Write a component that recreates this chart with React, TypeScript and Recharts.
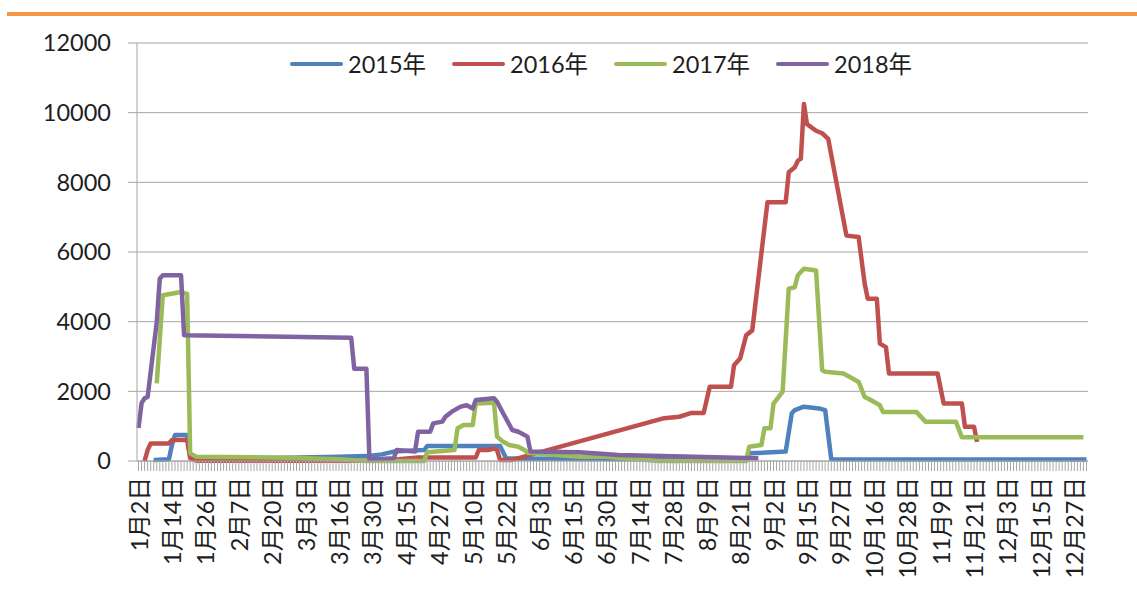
import { LineChart, Line, XAxis, YAxis, CartesianGrid } from 'recharts'

// category axis: one slot per day in the table, a label every 11 slots
const CATEGORY_COUNT = 313
const LABEL_STEP = 11
const DAY_LABELS = [
  '1月2日', '1月14日', '1月26日', '2月7日', '2月20日', '3月3日', '3月16日', '3月30日',
  '4月15日', '4月27日', '5月10日', '5月22日', '6月3日', '6月15日', '6月30日', '7月14日',
  '7月28日', '8月9日', '8月21日', '9月2日', '9月15日', '9月27日', '10月16日', '10月28日',
  '11月9日', '11月21日', '12月3日', '12月15日', '12月27日',
]
const Y_TICKS = [0, 2000, 4000, 6000, 8000, 10000, 12000]

// [category index, value] break points
const S2015 = [
  [5, 30], [10, 50], [11, 460], [12, 745], [16, 745], [17, 170], [19, 40], [40, 80],
  [66, 125], [75, 140], [80, 190], [84, 270], [94, 315], [95, 430], [119, 430], [121, 70],
  [160, 60], [200, 60], [201, 220], [213, 270], [215, 1370], [216, 1460], [219, 1560],
  [224, 1510], [226, 1460], [228, 50], [312, 40],
]
const S2016 = [
  [2, 0], [3, 315], [4, 500], [10, 500], [11, 600], [16, 600], [17, 80], [19, 10], [80, 10],
  [92, 100], [111, 100], [112, 315], [115, 315], [117, 360], [118, 315], [119, 30], [123, 30],
  [173, 1230], [178, 1270], [182, 1380], [186, 1380], [188, 2130], [195, 2130], [196, 2750],
  [198, 2940], [200, 3610], [202, 3750], [207, 7430], [213, 7430], [214, 8290], [216, 8430],
  [217, 8620], [218, 8680], [219, 10250], [220, 9670], [223, 9480], [225, 9410], [227, 9250],
  [233, 6470], [237, 6430], [239, 5090], [240, 4660], [243, 4660], [244, 3370], [246, 3270],
  [247, 2510], [263, 2510], [264, 2080], [265, 1650], [271, 1650], [272, 980], [275, 980],
  [276, 550],
]
const S2017 = [
  [6, 2230], [8, 4760], [14, 4850], [16, 4800], [17, 220], [19, 120], [50, 95], [66, 50],
  [75, 0], [94, 0], [95, 250], [104, 315], [105, 940], [107, 1030], [110, 1030], [111, 1650],
  [117, 1670], [118, 700], [120, 550], [122, 460], [125, 410], [127, 315], [128, 240],
  [145, 125], [154, 120], [171, 0], [200, 0], [201, 410], [205, 460], [206, 940], [208, 940],
  [209, 1650], [212, 1990], [214, 4950], [216, 4990], [217, 5330], [219, 5520], [223, 5470],
  [225, 2610], [226, 2560], [232, 2510], [235, 2370], [237, 2270], [239, 1840], [241, 1750],
  [244, 1600], [245, 1410], [256, 1410], [259, 1130], [269, 1130], [271, 680], [311, 680],
]
const S2018 = [
  [0, 950], [1, 1660], [2, 1800], [3, 1840], [6, 3990], [7, 5240], [8, 5330], [14, 5330],
  [15, 3610], [70, 3540], [71, 2650], [75, 2650], [76, 40], [84, 80], [85, 315], [91, 270],
  [92, 840], [96, 840], [97, 1080], [100, 1130], [101, 1270], [103, 1410], [106, 1560],
  [108, 1600], [110, 1510], [111, 1750], [117, 1800], [118, 1700], [120, 1370], [123, 890],
  [125, 840], [128, 700], [129, 270], [145, 250], [158, 170], [204, 80],
]

const SERIES = [
  { name: '2015年', color: '#4F81BD', points: S2015 },
  { name: '2016年', color: '#C0504D', points: S2016 },
  { name: '2017年', color: '#9BBB59', points: S2017 },
  { name: '2018年', color: '#8064A2', points: S2018 },
]

const FONT = "Lato, 'Noto Sans CJK SC', sans-serif"
const TEXT = '#1e1e1e'
const GRID = '#a6a6a6'

const allTicks = Array.from({ length: CATEGORY_COUNT }, (_, i) => i)

function DayTick({ x, y, payload }: any) {
  const i = payload.value
  if (i % LABEL_STEP !== 0) return <g />
  const label = DAY_LABELS[i / LABEL_STEP]
  const ty = y + 4
  return (
    <text
      x={x}
      y={ty}
      transform={`rotate(-90, ${x}, ${ty})`}
      textAnchor="end"
      dominantBaseline="central"
      fontSize={23.5}
      fontFamily={FONT}
      fill={TEXT}
    >
      {label}
    </text>
  )
}

function LegendBox() {
  return (
    <div
      style={{
        position: 'absolute', left: 290, top: 50, display: 'flex', alignItems: 'center',
        fontFamily: FONT, fontSize: 23.5, color: TEXT, lineHeight: '28px',
      }}
    >
      {SERIES.map(s => (
        <div key={s.name} style={{ display: 'flex', alignItems: 'center', marginRight: 26 }}>
          <span style={{ width: 53, height: 4.5, borderRadius: 2, background: s.color, marginRight: 5 }} />
          <span>{s.name}</span>
        </div>
      ))}
    </div>
  )
}

export default function App() {
  return (
    <div style={{ position: 'absolute', left: 0, top: 0, width: 1137, height: 595, background: '#fff' }}>
      <div style={{ position: 'absolute', left: 7, top: 12, width: 1130, height: 4, background: '#F79646' }} />
      <LineChart width={1137} height={595} margin={{ top: 43, right: 49, bottom: 0, left: 0 }} style={{ fontFamily: FONT }}>
        <CartesianGrid vertical={false} stroke={GRID} />
        <XAxis
          type="number"
          dataKey="i"
          domain={[-0.5, CATEGORY_COUNT - 0.5]}
          ticks={allTicks}
          interval={0}
          height={134}
          tickSize={10}
          tickLine={{ stroke: GRID }}
          axisLine={{ stroke: GRID }}
          tick={<DayTick />}
        />
        <YAxis
          domain={[0, 12000]}
          ticks={Y_TICKS}
          width={137}
          tickSize={9}
          tickMargin={17}
          tickLine={{ stroke: GRID }}
          axisLine={{ stroke: GRID }}
          tick={{ fontSize: 23.5, fill: TEXT, fontFamily: FONT }}
        />
        {SERIES.map(s => (
          <Line
            key={s.name}
            data={s.points.map(([i, v]) => ({ i, v }))}
            dataKey="v"
            name={s.name}
            type="linear"
            stroke={s.color}
            strokeWidth={4.5}
            strokeLinejoin="round"
            dot={false}
            activeDot={false}
            isAnimationActive={false}
          />
        ))}
      </LineChart>
      <LegendBox />
    </div>
  )
}
